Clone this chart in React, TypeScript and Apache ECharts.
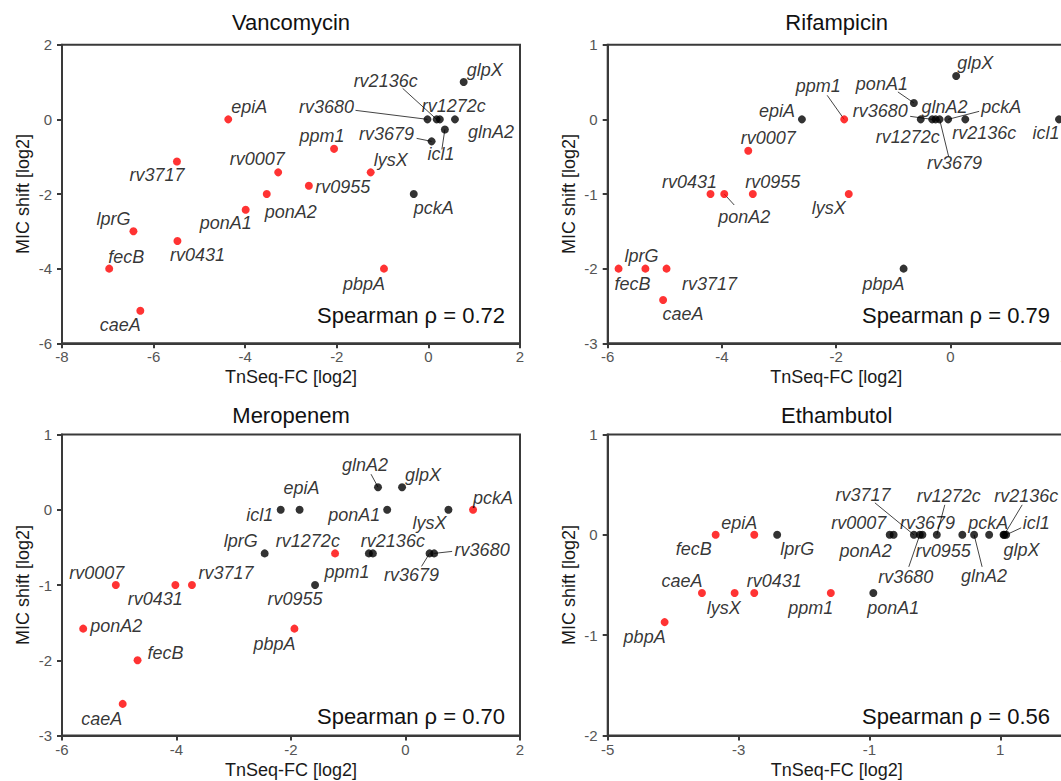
import React, { useEffect, useRef } from 'react';
import * as echarts from 'echarts';

// ---------- data ----------
const GENES = ['glpX', 'rv2136c', 'rv1272c', 'rv3680', 'glnA2', 'icl1', 'rv3679', 'pckA', 'epiA', 'ppm1', 'rv3717',
  'rv0007', 'lysX', 'rv0955', 'ponA2', 'ponA1', 'lprG', 'rv0431', 'fecB', 'pbpA', 'caeA'];

const PANEL_TITLES = ['Vancomycin', 'Rifampicin', 'Meropenem', 'Ethambutol'];
const SPEARMAN = ['0.72', '0.79', '0.70', '0.56'];

// TnSeq-FC [log2]
const VAN_X = [0.77, 0.18, 0.25, -0.02, 0.58, 0.36, 0.07, -0.32, -4.37, -2.06, -5.49, -3.28, -1.26, -2.61, -3.53, -3.99, -6.44, -5.48, -6.97, -0.97, -6.29];
const RIF_X = [0.1, 0.26, -0.52, -0.32, -0.26, 1.9, -0.19, -0.04, -2.6, -1.86, -4.97, -3.54, -1.78, -3.46, -3.96, -0.64, -5.34, -4.2, -5.81, -0.82, -5.03];
const MER_X = [-0.06, -0.57, -0.64, 0.5, -0.48, -2.18, 0.42, 1.18, -1.85, -1.23, -3.73, -5.06, 0.75, -1.58, -5.63, -0.32, -2.46, -4.02, -4.68, -1.94, -4.94];
const ETH_X = [1.05, 1.06, 0.03, -0.23, 0.6, 1.09, -0.19, 0.83, -2.76, -1.59, -0.32, -0.69, -3.06, 0.42, -0.63, -0.94, -2.41, -2.76, -3.35, -4.13, -3.56];

// MIC shift [log2]
const VAN_Y = [1.0, 0, 0, 0, 0, -0.27, -0.59, -2.0, 0, -0.79, -1.13, -1.42, -1.42, -1.78, -2.0, -2.42, -3.0, -3.26, -4.0, -4.0, -5.13];
const RIF_Y = [0.58, 0, 0, 0, 0, 0, 0, 0, 0, 0, -2, -0.42, -1, -1, -1, 0.22, -2, -1, -2, -2, -2.42];
const MER_Y = [0.3, -0.58, -0.58, -0.58, 0.3, 0, -0.58, 0, 0, -0.58, -1, -1, 0, -1, -1.58, 0, -0.58, -1, -2, -1.58, -2.58];
const ETH_Y = [0, 0, 0, 0, 0, 0, 0, 0, 0, -0.58, 0, 0, -0.58, 0, 0, -0.58, 0, -0.58, 0, -0.87, -0.58];

// significant (red) = 1, not significant (black) = 0
const VAN_SIG = [0, 0, 0, 0, 0, 0, 0, 0, 1, 1, 1, 1, 1, 1, 1, 1, 1, 1, 1, 1, 1];
const RIF_SIG = [0, 0, 0, 0, 0, 0, 0, 0, 0, 1, 1, 1, 1, 1, 1, 0, 1, 1, 1, 0, 1];
const MER_SIG = [0, 0, 0, 0, 0, 0, 0, 1, 0, 1, 1, 1, 0, 0, 1, 0, 0, 1, 1, 1, 1];
const ETH_SIG = [0, 0, 0, 0, 0, 0, 0, 0, 1, 1, 0, 0, 1, 0, 0, 0, 0, 1, 1, 1, 1];

// axis ranges [min, max, interval]
const X_RANGES = [[-8, 2, 2], [-6, 2, 2], [-6, 2, 2], [-5, 2, 2]];
const Y_RANGES = [[-6, 2, 2], [-3, 1, 1], [-3, 1, 1], [-2, 1, 1]];

// ---------- label placement (pixel offsets of label centre from its point) ----------
const VAN_LBL: [number, number][] = [[21, -12], [-51, -38], [14, -13], [-101, -12], [36, 13], [-4, 25], [-45, -7], [20, 14], [21, -12], [-12, -13], [-20, 13], [-21, -13], [20, -12], [34, 1], [24, 18], [-20, 13], [-20, -12], [20, 14], [17, -12], [-20, 15], [-20, 14]];
const RIF_LBL: [number, number][] = [[19, -13], [19, 14], [-13, 18], [-52, -8], [9, -12], [-13, 14], [15, 44], [53, -12], [-25, -8], [-26, -33], [43, 15], [20, -13], [-20, 14], [20, -12], [20, 23], [-32, -19], [-4, -13], [-21, -12], [14, 15], [-20, 15], [20, 14]];
const MER_LBL: [number, number][] = [[21, -12], [20, -12], [-61, -12], [48, -3], [-13, -22], [-21, 5], [-18, 22], [20, -12], [2, -22], [12, 19], [34, -12], [-19, -12], [-19, 13], [-20, 14], [33, -3], [-33, 5], [-24, -12], [-20, 14], [28, -7], [-20, 15], [-21, 15]];
const ETH_LBL: [number, number][] = [[18, 15], [22, -39], [12, -39], [-14, 42], [10, 41], [30, -12], [5, -12], [-1, -12], [-15, -12], [-20, 15], [-51, -40], [-31, -12], [-11, 15], [-19, 16], [-28, 16], [20, 15], [20, 14], [20, -12], [-22, 14], [-20, 15], [-20, -12]];

// leader lines: gene, pixel offset of the line's label-side end from the point
const VAN_LEAD: [string, number, number][] = [['rv2136c', -34, -31], ['rv3680', -72, -9], ['rv3679', -15, -3], ['icl1', -3, 20]];
const RIF_LEAD: [string, number, number][] = [['ppm1', -17, -24], ['ponA1', -16, -11], ['rv3680', -22, -3], ['pckA', 31, -8], ['rv3679', 9, 37], ['ponA2', 10, 11]];
const MER_LEAD: [string, number, number][] = [['glnA2', -7, -13], ['rv3679', -8, 13], ['rv3680', 18, -2]];
const ETH_LEAD: [string, number, number][] = [['rv3717', -39, -32], ['rv1272c', 8, -30], ['rv2136c', 18, -30], ['icl1', 15, -7], ['rv3680', -11, 32], ['glnA2', 8, 32]];

const PANELS = [
  { x: VAN_X, y: VAN_Y, sig: VAN_SIG, lbl: VAN_LBL, lead: VAN_LEAD },
  { x: RIF_X, y: RIF_Y, sig: RIF_SIG, lbl: RIF_LBL, lead: RIF_LEAD },
  { x: MER_X, y: MER_Y, sig: MER_SIG, lbl: MER_LBL, lead: MER_LEAD },
  { x: ETH_X, y: ETH_Y, sig: ETH_SIG, lbl: ETH_LBL, lead: ETH_LEAD },
];

// ---------- layout ----------
const GRIDS = [
  { left: 62, top: 44.7, width: 458, height: 298.6 },
  { left: 607.7, top: 44.7, width: 457, height: 298.6 },
  { left: 62, top: 434.5, width: 458, height: 301 },
  { left: 607.7, top: 434.5, width: 458, height: 301 },
];
const SPEARMAN_POS = [[505, 315], [1050, 315], [505, 716.7], [1050, 716.7]];
const TITLE_Y = [22.7, 22.7, 415, 415];

const FONT = 'Arial, "Liberation Sans", Helvetica, sans-serif';
const AXIS_COLOR = '#3a3a3a';
const RED = '#ff0000';
const BLACK = '#000000';
const LEAD_COLOR = '#444';

function buildOption() {
  const grid = GRIDS.map((g) => ({
    ...g,
    show: true,
    borderColor: AXIS_COLOR,
    borderWidth: 2,
    backgroundColor: 'transparent',
    containLabel: false,
    outerBoundsMode: 'none',
  }));

  const xAxis = X_RANGES.map(([min, max, interval], i) => ({
    type: 'value',
    gridIndex: i,
    min, max, interval,
    name: 'TnSeq-FC [log2]',
    nameLocation: 'middle',
    nameGap: 25,
    nameTextStyle: { fontSize: 18, color: '#1a1a1a', fontFamily: FONT },
    axisLine: { show: true, onZero: false, lineStyle: { color: AXIS_COLOR, width: 2 } },
    axisTick: { show: true, length: 5, lineStyle: { color: AXIS_COLOR, width: 2 } },
    axisLabel: { fontSize: 15, color: '#555', fontFamily: FONT, margin: 6, showMaxLabel: i !== 3 },
    splitLine: { show: false },
  }));

  const yAxis = Y_RANGES.map(([min, max, interval], i) => ({
    type: 'value',
    gridIndex: i,
    min, max, interval,
    name: 'MIC shift [log2]',
    nameLocation: 'middle',
    nameGap: 30,
    nameTextStyle: { fontSize: 18, color: '#1a1a1a', fontFamily: FONT },
    axisLine: { show: true, onZero: false, lineStyle: { color: AXIS_COLOR, width: 2 } },
    axisTick: { show: true, length: 5, lineStyle: { color: AXIS_COLOR, width: 2 } },
    axisLabel: { fontSize: 15, color: '#555', fontFamily: FONT, margin: 10 },
    splitLine: { show: false },
  }));

  const series: any[] = [];
  PANELS.forEach((p, i) => {
    // leader lines drawn from each point (through the axes' scales) to its label
    series.push({
      type: 'custom',
      xAxisIndex: i,
      yAxisIndex: i,
      silent: true,
      clip: false,
      data: p.lead.map(([g, ex, ey]) => {
        const k = GENES.indexOf(g);
        return [p.x[k], p.y[k], ex, ey];
      }),
      renderItem: (_params: any, api: any) => {
        const pt = api.coord([api.value(0), api.value(1)]);
        return {
          type: 'line',
          shape: { x1: pt[0], y1: pt[1], x2: pt[0] + api.value(2), y2: pt[1] + api.value(3) },
          style: { stroke: LEAD_COLOR, lineWidth: 1 },
        };
      },
    });
    series.push({
      type: 'scatter',
      xAxisIndex: i,
      yAxisIndex: i,
      symbolSize: 8,
      label: {
        show: true,
        position: 'inside',
        formatter: '{b}',
        color: '#000',
        fontSize: 18,
        fontStyle: 'italic',
        fontFamily: FONT,
      },
      data: GENES.map((name, k) => ({
        name,
        value: [p.x[k], p.y[k]],
        itemStyle: { color: p.sig[k] ? RED : BLACK },
        label: { offset: [p.lbl[k][0], p.lbl[k][1]] },
      })),
    });
  });

  const graphic: any[] = [];
  GRIDS.forEach((g, i) => {
    graphic.push({
      type: 'text',
      x: g.left + 229,
      y: TITLE_Y[i],
      style: {
        text: PANEL_TITLES[i],
        textAlign: 'center',
        textVerticalAlign: 'middle',
        fontSize: 22,
        fontFamily: FONT,
        fill: '#111',
      },
    });
    graphic.push({
      type: 'text',
      x: SPEARMAN_POS[i][0],
      y: SPEARMAN_POS[i][1],
      style: {
        text: 'Spearman ρ = ' + SPEARMAN[i],
        textAlign: 'right',
        textVerticalAlign: 'middle',
        fontSize: 22,
        fontFamily: FONT,
        fill: '#111',
      },
    });
  });

  return {
    animation: false,
    backgroundColor: '#ffffff',
    grid,
    xAxis,
    yAxis,
    series,
    graphic,
  };
}

export default function App() {
  const ref = useRef<HTMLDivElement>(null);
  useEffect(() => {
    if (!ref.current) return;
    const chart = echarts.init(ref.current, undefined, { renderer: 'svg' });
    chart.setOption(buildOption() as any);
    return () => chart.dispose();
  }, []);
  return (
    <div
      ref={ref}
      style={{ position: 'absolute', left: 0, top: 0, width: 1061, height: 781, background: '#fff' }}
    />
  );
}
